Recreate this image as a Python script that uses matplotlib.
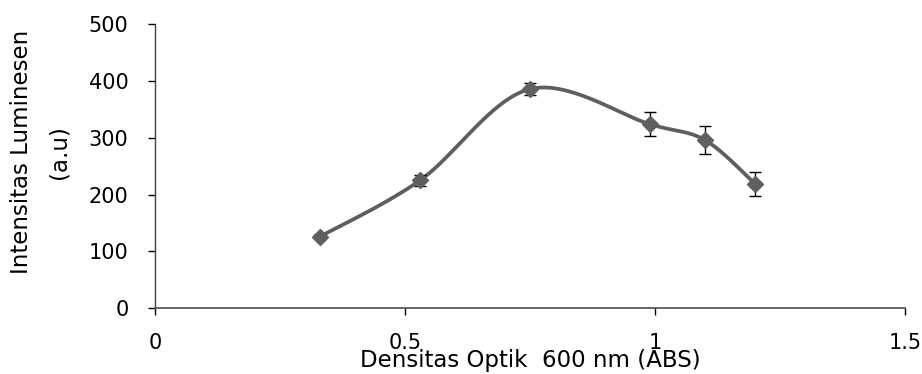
import numpy as np
import matplotlib
matplotlib.use("Agg")
import matplotlib.pyplot as plt

od = [0.33, 0.53, 0.75, 0.99, 1.10, 1.20]
intensity = [126, 225, 386, 324, 296, 219]
err = [5, 10, 11, 21, 25, 21]

x_ticks = [0, 0.5, 1, 1.5]
x_tick_labels = ["0", "0.5", "1", "1.5"]
y_ticks = [0, 100, 200, 300, 400, 500]

plt.rcParams['font.family'] = ['DejaVu Sans']

fig = plt.figure(figsize=(9.22, 3.74), dpi=100)
ax = fig.add_axes([0.168, 0.176, 0.8136, 0.759])
ax.set_xlim(0, 1.5)
ax.set_ylim(0, 500)

# Excel-like smoothed line (Bezier through points, computed in screen-scale space)
sx, sy = 500.0, 0.568
P = np.column_stack([np.array(od) * sx, np.array(intensity) * sy])
n = len(P)
curve = []
for i in range(n - 1):
    p0 = P[i - 1] if i > 0 else P[i]
    p1 = P[i]
    p2 = P[i + 1]
    p3 = P[i + 2] if i + 2 < n else P[i + 1]
    c1 = p1 + (p2 - p0) / 6.0
    c2 = p2 - (p3 - p1) / 6.0
    t = np.linspace(0, 1, 60)[:, None]
    seg = ((1 - t) ** 3) * p1 + 3 * ((1 - t) ** 2) * t * c1 + 3 * (1 - t) * t ** 2 * c2 + t ** 3 * p2
    curve.append(seg)
curve = np.vstack(curve)
ax.plot(curve[:, 0] / sx, curve[:, 1] / sy, color='#5f5f5f', lw=2.7, zorder=2,
        solid_capstyle='round')
ax.errorbar(od, intensity, yerr=err, fmt='none', ecolor='black', elinewidth=1,
            capsize=4, capthick=1, zorder=3)
ax.plot(od, intensity, linestyle='none', marker='D', markersize=8,
        color='#5f5f5f', zorder=4)

for s in ['top', 'right']:
    ax.spines[s].set_visible(False)
ax.spines['left'].set_color('#404040')
ax.spines['bottom'].set_color('#595959')
ax.spines['left'].set_linewidth(1)
ax.spines['bottom'].set_linewidth(1.3)

ax.set_xticks(x_ticks)
ax.set_xticklabels(x_tick_labels)
ax.set_yticks(y_ticks)
ax.tick_params(axis='both', labelsize=15, colors='black', length=5, width=1)
ax.tick_params(axis='x', pad=13)
ax.tick_params(axis='y', pad=14)

ax.set_xlabel("Densitas Optik  600 nm (ABS)", fontsize=16.5, labelpad=-3)
ax.set_ylabel("Intensitas Luminesen\n(a.u)", fontsize=16.5, labelpad=12,
              linespacing=1.8)
ax.yaxis.set_label_coords(-0.112, 0.55)

fig.savefig("out.png", dpi=100)
